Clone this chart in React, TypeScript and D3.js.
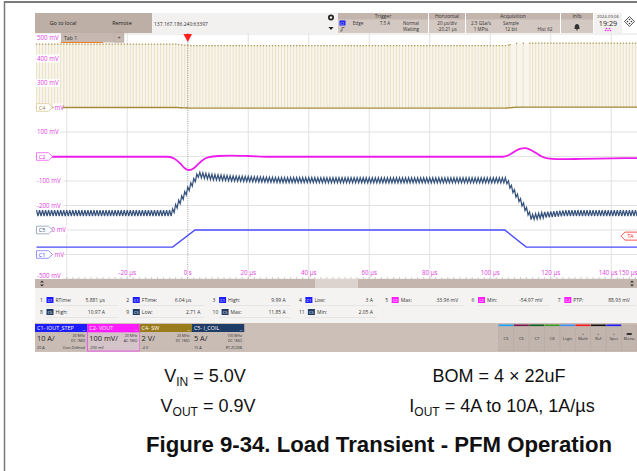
import React from "react";
import * as d3 from "d3";

const W = 637;
const H = 471;

// ---------- axes ----------
const timeDomainUs = [-50, 150];
const timeGridUs = [-40, -20, 0, 20, 40, 60, 80, 100, 120, 140];
const timeTickUs = [-20, 0, 20, 40, 60, 80, 100, 120, 140, 150];
const timeTickLabels = ["-20 µs", "0 s", "20 µs", "40 µs", "60 µs", "80 µs", "100 µs", "120 µs", "140 µs", "150 µs"];
const voltGridMv = [500, 400, 300, 200, 100, 0, -100, -200, -300, -400, -500];
// labels as visible on screen (partly hidden behind the channel tags)
const voltLabels = ["500 mV", "400 mV", "300 mV", "mV", "100 mV", "", "-100 mV", "-200 mV", "0 mV", "mV", "-500 mV"];

// ---------- C1 IOUT_STEP (A) ----------
const c1TimeUs = [-50, -5.0, 2.4, 104.8, 111.9, 150];
const c1Amps = [3, 3, 9.99, 9.99, 3, 3];

// ---------- C2 VOUT (mV, AC) ----------
const c2TimeUs = [-50, -6.5, -4.5, -2.5, -1, 0.5, 2, 3.5, 5, 7, 10, 14, 20, 27, 104, 106, 108, 110, 111.5, 113, 115, 117, 119, 122, 130, 140, 150];
const c2Mv = [-1, -1, -8, -28, -48, -55, -48, -30, -14, -3, 2, 3.5, 2, -1, -1, 5, 20, 32, 34, 29, 15, 0, -8, -11, -10, -8, -6];

// ---------- C5 I_COIL (A) : envelope ----------
const c5TimeUs = [-50, -5.3, 3.5, 8, 15, 30, 60, 105.3, 113.6, 118, 125, 150];
const c5CenterA = [3.45, 3.45, 11.3, 10.8, 10.5, 10.2, 10.15, 10.15, 2.6, 3.1, 3.45, 3.45];
const c5RippleA = [0.6, 0.6, 0.55, 0.55, 0.52, 0.52, 0.52, 0.52, 0.55, 0.6, 0.6, 0.6];
const c5PeriodUs = 1.0;

// ---------- C4 SW (V) ----------
const c4TimeUs = [-50, -4, 0.5, 105, 109, 150];
const c4HighV = [5.17, 5.17, 5.05, 5.05, 5.25, 5.25];
const c4LowV = [0, 0, -0.05, -0.05, 0.03, 0.03];
const c4PeriodUs = 1.0;
const c4SparseUs = [106.5, 114];
const c4SparsePeriodUs = 2.2;

// ---------- markers ----------
const markerNames = ["C4", "C2", "C5", "C1"];
const markerLevelMv = [200, 0, -300, -400];
const markerStroke = ["#d9cc9c", "#f060f0", "#8c9cb4", "#7a7aff"];
const markerText = ["#9a8030", "#e020e0", "#2c4a75", "#3030ff"];

// ---------- measurements ----------
const measNum = ["1", "2", "3", "4", "5", "6", "7", "8", "9", "10", "11"];
const measCh = ["C1", "C1", "C1", "C1", "C2", "C2", "C2", "C5", "C5", "C5", "C5"];
const measName = ["RTime:", "FTime:", "High:", "Low:", "Max:", "Min:", "PTP:", "High:", "Low:", "Max:", "Min:"];
const measValue = ["5.881 µs", "6.04 µs", "9.99 A", "3 A", "33.96 mV", "-54.97 mV", "88.93 mV", "10.97 A", "2.71 A", "11.85 A", "2.05 A"];
const measValueEnd = [67, 67, 75, 76, 75, 73, 74, 67, 76, 75, 76];

// ---------- channel badges ----------
const chName = ["C1- IOUT_STEP", "C2- VOUT", "C4- SW", "C5- I_COIL"];
const chScale = ["10 A/", "100 mV/", "2 V/", "5 A/"];
const chBw = ["20 MHz", "20 MHz", "20 MHz", "100 MHz"];
const chCoupling = ["DC 1MΩ", "AC 1MΩ", "DC 1MΩ", "DC 1MΩ"];
const chOffset = ["20 A", "-200 mV", "-4 V", "15 A"];
const chProbe = ["User-Defined", "", "", "RT-ZC20B"];
const chColor = ["#1c1cff", "#ff1cff", "#9a7c1c", "#1f3c66"];

const sideButtons = ["C3", "C6", "C7", "C8", "Logic", "Math", "Ref", "Spec", "Menu"];
const sideButtonColors = ["#1aa0ff", "#7a1450", "#0b5a20", "#3a9a1e", "#3f8fff", "#ff1a1a", "#111111", "#1a1aff", "none"];

const chColorMap: Record<string, string> = { C1: "#1c1cff", C2: "#ff1cff", C4: "#9a7c1c", C5: "#1f3c66" };

const UI = "'Open Sans', 'Noto Sans', sans-serif";
const CAP = "'Liberation Sans', Arial, sans-serif";

export default function App() {
  const x = d3.scaleLinear().domain(timeDomainUs).range([36.5, 641.5]);
  const yMv = d3.scaleLinear().domain([-500, 500]).range([279, 34]);
  const yC1 = (a: number) => yMv(-400 + a * 10);
  const yC2 = (mv: number) => yMv(mv);
  const yC4 = (v: number) => yMv(200 + v * 50);
  const yC5 = (a: number) => yMv(-300 + a * 20);

  const plotL = 35, plotR = 637, plotT = 33, plotB = 279;

  const c1Line = d3.line<number>().x((_, i) => x(c1TimeUs[i])).y((d) => yC1(d))(c1Amps) || "";
  const c2Line = d3.line<number>().x((_, i) => x(c2TimeUs[i])).y((d) => yC2(d)).curve(d3.curveMonotoneX)(c2Mv) || "";

  const c5Center = d3.scaleLinear().domain(c5TimeUs).range(c5CenterA);
  const c5Amp = d3.scaleLinear().domain(c5TimeUs).range(c5RippleA);
  const half = c5PeriodUs / 2;
  const nC5 = Math.floor((timeDomainUs[1] - timeDomainUs[0]) / half);
  const c5Pts = d3.range(nC5 + 1).map((k) => {
    const t = timeDomainUs[0] + k * half;
    return [t, c5Center(t) + (k % 2 === 0 ? 1 : -1) * c5Amp(t)] as [number, number];
  });
  const c5Line = d3.line<[number, number]>().x((d) => x(d[0])).y((d) => yC5(d[1]))(c5Pts) || "";

  const c4High = d3.scaleLinear().domain(c4TimeUs).range(c4HighV);
  const c4Low = d3.scaleLinear().domain(c4TimeUs).range(c4LowV);
  const pulses: number[] = [];
  for (let t = timeDomainUs[0]; t < c4SparseUs[0]; t += c4PeriodUs) pulses.push(t);
  for (let t = c4SparseUs[0]; t < c4SparseUs[1]; t += c4SparsePeriodUs) pulses.push(t);
  for (let t = c4SparseUs[1]; t <= timeDomainUs[1]; t += c4PeriodUs) pulses.push(t);
  const c4Tms = d3.range(timeDomainUs[0], timeDomainUs[1] + 0.5, 0.5);
  const c4Area = d3.area<number>().x((t) => x(t)).y0((t) => yC4(c4Low(t))).y1((t) => yC4(c4High(t)))(c4Tms) || "";
  const c4Base = d3.line<number>().x((t) => x(t)).y((t) => yC4(c4Low(t)))(c4Tms) || "";

  const minorTicks = d3.range(-50, 151, 2);

  return (
    <div style={{ position: "absolute", left: 0, top: 0, width: W, height: H }}>
      <svg width={W} height={H} viewBox={`0 0 ${W} ${H}`} style={{ display: "block", background: "#fff" }}>
        <defs>
          <clipPath id="plotClip">
            <rect x={plotL} y={plotT} width={plotR - plotL} height={plotB - plotT} />
          </clipPath>
        </defs>

        {/* outer figure border */}
        <line x1={4.5} y1={2} x2={W} y2={2} stroke="#7a7a7a" strokeWidth={2} />
        <line x1={4.5} y1={1} x2={4.5} y2={H} stroke="#7a7a7a" strokeWidth={1.5} />

        {/* ---------- top toolbar ---------- */}
        <rect x={35} y={13} width={117} height={20} fill="#bdaea6" />
        <text x={63} y={25} fontFamily={UI} fontSize={5.4} textAnchor="middle" fill="#222">Go to local</text>
        <text x={122} y={25} fontFamily={UI} fontSize={5.4} textAnchor="middle" fill="#222">Remote</text>
        <rect x={152} y={13} width={186} height={20} fill="#f3f1f0" />
        <text x={154} y={25.5} fontFamily={UI} fontSize={5} fill="#333">137.167.186.240:63397</text>
        <circle cx={331} cy={17.5} r={3} fill="#222" />
        <circle cx={331} cy={17.5} r={1.2} fill="#f3f1f0" />
        <path d="M328.5,27 L333.5,27 L331,30 Z" fill="#222" />
        {/* trigger panel */}
        <rect x={338} y={13} width={90} height={20} fill="#d3c8c2" />
        <rect x={338} y={13} width={90} height={6.5} fill="#c3b5ae" />
        <text x={383} y={18} fontFamily={UI} fontSize={5} textAnchor="middle" fill="#333">Trigger</text>
        <rect x={339.5} y={20.5} width={6} height={5} fill="#1c1cff" />
        <text x={342.5} y={24.5} fontFamily={UI} fontSize={3.6} textAnchor="middle" fill="#fff">C1</text>
        <text x={358} y={25} fontFamily={UI} fontSize={4.6} textAnchor="middle" fill="#333">Edge</text>
        <text x={385} y={25} fontFamily={UI} fontSize={4.6} textAnchor="middle" fill="#333">7.5 A</text>
        <text x={411} y={25} fontFamily={UI} fontSize={4.6} textAnchor="middle" fill="#333">Normal</text>
        <path d="M340,31 L342,31 L342,27.5 L344.5,27.5" fill="none" stroke="#333" strokeWidth={0.6} />
        <text x={411} y={31} fontFamily={UI} fontSize={4.6} textAnchor="middle" fill="#333">Waiting</text>
        {/* horizontal panel */}
        <rect x={429} y={13} width={36} height={20} fill="#d3c8c2" />
        <rect x={429} y={13} width={36} height={6.5} fill="#c3b5ae" />
        <text x={447} y={18} fontFamily={UI} fontSize={5} textAnchor="middle" fill="#333">Horizontal</text>
        <text x={447} y={25} fontFamily={UI} fontSize={4.6} textAnchor="middle" fill="#333">20 µs/div</text>
        <text x={447} y={31} fontFamily={UI} fontSize={4.6} textAnchor="middle" fill="#333">-20.21 µs</text>
        {/* acquisition panel */}
        <rect x={466} y={13} width={94} height={20} fill="#d3c8c2" />
        <rect x={466} y={13} width={94} height={6.5} fill="#c3b5ae" />
        <text x={513} y={18} fontFamily={UI} fontSize={5} textAnchor="middle" fill="#333">Acquisition</text>
        <text x={481} y={25} fontFamily={UI} fontSize={4.6} textAnchor="middle" fill="#333">2.5 GSa/s</text>
        <text x={511} y={25} fontFamily={UI} fontSize={4.6} textAnchor="middle" fill="#333">Sample</text>
        <text x={481} y={31} fontFamily={UI} fontSize={4.6} textAnchor="middle" fill="#333">1 MPts</text>
        <text x={511} y={31} fontFamily={UI} fontSize={4.6} textAnchor="middle" fill="#333">12 bit</text>
        <text x={545} y={31} fontFamily={UI} fontSize={4.6} textAnchor="middle" fill="#333">Hist 62</text>
        {/* info panel */}
        <rect x={561} y={13} width={32} height={20} fill="#d3c8c2" />
        <rect x={561} y={13} width={32} height={6.5} fill="#c3b5ae" />
        <text x={577} y={18} fontFamily={UI} fontSize={5} textAnchor="middle" fill="#333">Info</text>
        <path d="M574.5,29 Q574.5,24 577,24 Q579.5,24 579.5,29 Z" fill="#333" />
        <circle cx={577} cy={29.8} r={0.8} fill="#333" />
        {/* date panel */}
        <rect x={594} y={13} width={28} height={20} fill="#f3f1f0" />
        <text x={608} y={17.5} fontFamily={UI} fontSize={4.2} textAnchor="middle" fill="#333">2024-09-06</text>
        <text x={608} y={25.5} fontFamily={UI} fontSize={7.2} textAnchor="middle" fill="#222">19:29</text>
        <circle cx={606.5} cy={28.5} r={0.8} fill="#ff1cff" />
        <circle cx={609.5} cy={28.5} r={0.8} fill="#ff1cff" />
        <circle cx={605.5} cy={30.5} r={0.8} fill="#ff1cff" />
        <circle cx={608} cy={30.5} r={0.8} fill="#ff1cff" />
        <circle cx={610.5} cy={30.5} r={0.8} fill="#ff1cff" />
        <rect x={626} y={18} width={7} height={7} fill="none" stroke="#333" strokeWidth={0.8} transform="rotate(45 629.5 21.5)" />
        <circle cx={629.5} cy={19.5} r={0.8} fill="#333" />
        <circle cx={629.5} cy={23.5} r={0.8} fill="#333" />
        <circle cx={627.5} cy={21.5} r={0.8} fill="#333" />
        <circle cx={631.5} cy={21.5} r={0.8} fill="#333" />

        {/* ---------- plot area ---------- */}
        <rect x={plotL} y={plotT} width={plotR - plotL} height={plotB - plotT} fill="#ffffff" />
        <g clipPath="url(#plotClip)">
          {voltGridMv.map((v) => (
            <line key={"h" + v} x1={plotL} x2={plotR} y1={yMv(v)} y2={yMv(v)} stroke="#e2e2e2" strokeWidth={1} />
          ))}
          {timeGridUs.filter((t) => t !== 0).map((t) => (
            <line key={"v" + t} x1={x(t)} x2={x(t)} y1={plotT} y2={plotB} stroke="#e2e2e2" strokeWidth={1} />
          ))}
          {minorTicks.map((t) => (
            <line key={"m" + t} x1={x(t)} x2={x(t)} y1={plotB - 2} y2={plotB} stroke="#b0b0b0" strokeWidth={0.6} />
          ))}

          {/* C4 switching node */}
          <path d={c4Area} fill="#f8f5ec" />
          {pulses.map((t, i) => (
            <line key={"p" + i} x1={x(t)} x2={x(t)} y1={yC4(c4Low(t))} y2={yC4(c4High(t))} stroke="#e6dcbe" strokeWidth={0.8} />
          ))}
          {pulses.map((t, i) => (
            <line key={"pt" + i} x1={x(t) - 0.6} x2={x(t) + 0.8} y1={yC4(c4High(t))} y2={yC4(c4High(t))} stroke="#ad9650" strokeWidth={1.2} />
          ))}
          <path d={c4Base} fill="none" stroke="#a68c3a" strokeWidth={1.4} />

          <line x1={x(0)} x2={x(0)} y1={plotT} y2={plotB} stroke="#8a8a8a" strokeWidth={0.8} strokeDasharray="1,1.2" />

          <path d={c2Line} fill="none" stroke="#ec1cec" strokeWidth={1.8} />
          <path d={c5Line} fill="none" stroke="#35527c" strokeWidth={1.25} />
          <path d={c1Line} fill="none" stroke="#4a4aff" strokeWidth={1.4} />
        </g>

        {/* y labels */}
        {voltGridMv.map((v, i) => {
          const lbl = voltLabels[i];
          if (!lbl) return null;
          const yy = Math.min(Math.max(yMv(v), 38), 275.5);
          const mi = markerLevelMv.indexOf(v);
          const lx = mi >= 0 ? (lbl === "mV" ? 54.5 : 51.5) : 37;
          return (
            <g key={"yl" + v}>
              <rect x={lx - 1} y={yy - 4} width={lbl.length * 3.6 + 2} height={8} fill="#fff" />
              <text x={lx} y={yy + 2.2} fontFamily={UI} fontSize={6.2} fill="#e040e0">{lbl}</text>
            </g>
          );
        })}
        {/* channel tags */}
        {markerNames.map((n, i) => {
          const yy = yMv(markerLevelMv[i]);
          return (
            <g key={"tag" + n}>
              <path d={`M36.5,${yy - 3.8} L48.5,${yy - 3.8} L52.5,${yy} L48.5,${yy + 3.8} L36.5,${yy + 3.8} Z`} fill="#fff" stroke={markerStroke[i]} strokeWidth={0.8} />
              <text x={42} y={yy + 2} fontFamily={UI} fontSize={5.4} textAnchor="middle" fill={markerText[i]}>{n}</text>
            </g>
          );
        })}
        {/* x labels */}
        {timeTickUs.map((t, i) => {
          let xx = x(t);
          if (t === 140) xx -= 3;
          if (t === 150) xx = 628;
          return (
            <text key={"xl" + t} x={xx} y={275} fontFamily={UI} fontSize={6.2} textAnchor="middle" fill="#e040e0">{timeTickLabels[i]}</text>
          );
        })}

        {/* tab bar over plot */}
        <rect x={61} y={33} width={53} height={9.5} fill="#c6b8b1" />
        <text x={64} y={40} fontFamily={UI} fontSize={5.2} fill="#333">Tab 1</text>
        <line x1={61} x2={103} y1={42.5} y2={42.5} stroke="#f08020" strokeWidth={1} />
        <rect x={114} y={33} width={10} height={9.5} fill="#c6b8b1" stroke="#b0a29b" strokeWidth={0.4} />
        <text x={119} y={40} fontFamily={UI} fontSize={5.5} textAnchor="middle" fill="#333">+</text>

        {/* trigger marker */}
        <path d={`M${x(0) - 4.3},34 L${x(0) + 4.3},34 L${x(0)},42 Z`} fill="#ff2020" />
        {/* TA marker */}
        <path d={`M625,${yC1(7.5) - 4} L640,${yC1(7.5) - 4} L640,${yC1(7.5) + 4} L625,${yC1(7.5) + 4} L621,${yC1(7.5)} Z`} fill="#fff" stroke="#ff2a2a" strokeWidth={0.8} />
        <text x={630.5} y={yC1(7.5) + 2} fontFamily={UI} fontSize={5.2} textAnchor="middle" fill="#ff2a2a">TA</text>

        {/* scrollbar */}
        <rect x={35} y={279} width={280} height={9} fill="#c4b6ae" />
        <rect x={315} y={279} width={43} height={9} fill="#dcd3cf" />
        <rect x={358} y={279} width={279} height={9} fill="#c4b6ae" />
        <path d="M40,282.6 L42,280.6 L44,282.6 Z M40,284.4 L42,286.4 L44,284.4 Z" fill="#333" />
        <path d="M630,282.6 L632,280.6 L634,282.6 Z M630,284.4 L632,286.4 L634,284.4 Z" fill="#333" />

        {/* measurements */}
        <rect x={35} y={288} width={602} height={35} fill="#f5f3f2" />
        {measNum.map((num, i) => {
          const row = i < 7 ? 0 : 1;
          const col = i < 7 ? i : i - 7;
          const x0 = 38 + col * 86.3;
          const yy = row === 0 ? 300 : 312;
          const off = num.length > 1 ? 2.5 : 0;
          return (
            <g key={"meas" + i}>
              <text x={x0 + 2} y={yy + 2} fontFamily={UI} fontSize={5} fill="#333">{num}</text>
              <rect x={x0 + 8.5 + off} y={yy - 3} width={7} height={6} fill={chColorMap[measCh[i]]} />
              <text x={x0 + 12 + off} y={yy + 1.6} fontFamily={UI} fontSize={3.8} textAnchor="middle" fill="#fff">{measCh[i]}</text>
              <text x={x0 + 17.5 + off} y={yy + 2} fontFamily={UI} fontSize={5} fill="#333">{measName[i]}</text>
              <text x={x0 + measValueEnd[i]} y={yy + 2} fontFamily={UI} fontSize={5} textAnchor="end" fill="#333">{measValue[i]}</text>
              <line x1={x0 + 8} x2={x0 + 80} y1={yy + 5.5} y2={yy + 5.5} stroke="#dcdcdc" strokeWidth={0.6} />
            </g>
          );
        })}

        {/* bottom strip */}
        <rect x={35} y={323} width={602} height={29} fill="#cbbfb8" />
        {chName.map((n, i) => {
          const bx = 35 + i * 52.3;
          return (
            <g key={"ch" + i}>
              <rect x={bx} y={324} width={52.3} height={8} fill={chColor[i]} />
              <text x={bx + 2} y={330.3} fontFamily={UI} fontSize={5.4} fill="#fff">{n}</text>
              <text x={bx + 48} y={330} fontFamily={UI} fontSize={5} fill="#fff">_</text>
              <rect x={bx} y={332} width={52.3} height={19} fill={i === 1 ? "#d4c3c8" : "#c9bcb5"} stroke={i === 1 ? "#ff1cff" : "none"} strokeWidth={0.6} />
              <text x={bx + 2} y={340.5} fontFamily={UI} fontSize={7.4} fill="#222">{chScale[i]}</text>
              <text x={bx + 50} y={337} fontFamily={UI} fontSize={3.6} textAnchor="end" fill="#333">{chBw[i]}</text>
              <text x={bx + 50} y={342} fontFamily={UI} fontSize={3.6} textAnchor="end" fill="#333">{chCoupling[i]}</text>
              <text x={bx + 2} y={348.5} fontFamily={UI} fontSize={3.8} fill="#333">{chOffset[i]}</text>
              {chProbe[i] && <text x={bx + 50} y={348.5} fontFamily={UI} fontSize={3.6} textAnchor="end" fill="#333">{chProbe[i]}</text>}
            </g>
          );
        })}
        {sideButtons.map((b, i) => {
          const bx = 498.5 + i * 15.4;
          return (
            <g key={"sb" + b}>
              <rect x={bx} y={325} width={15} height={26} fill="#c2b5ae" stroke="#b4a69f" strokeWidth={0.4} />
              {sideButtonColors[i] !== "none" && <rect x={bx} y={324.5} width={15} height={1.6} fill={sideButtonColors[i]} />}
              {(b === "Math" || b === "Ref" || b === "Spec") && (
                <text x={bx + 7.5} y={335} fontFamily={UI} fontSize={3.8} textAnchor="middle" fill="#333">+</text>
              )}
              {b === "Menu" && <rect x={bx + 5} y={333} width={5} height={2} fill="#333" />}
              <text x={bx + 7.5} y={339.5} fontFamily={UI} fontSize={4} textAnchor="middle" fill="#333">{b}</text>
            </g>
          );
        })}

        {/* ---------- caption ---------- */}
        <text x={205} y={382} fontFamily={CAP} fontSize={18} textAnchor="middle" fill="#111">
          V<tspan fontSize={12} dy={4}>IN</tspan><tspan dy={-4}> = 5.0V</tspan>
        </text>
        <text x={499} y={382} fontFamily={CAP} fontSize={18} textAnchor="middle" fill="#111">BOM = 4 × 22uF</text>
        <text x={208} y={412} fontFamily={CAP} fontSize={18} textAnchor="middle" fill="#111">
          V<tspan fontSize={12} dy={4}>OUT</tspan><tspan dy={-4}> = 0.9V</tspan>
        </text>
        <text x={502} y={412} fontFamily={CAP} fontSize={18} textAnchor="middle" fill="#111">
          I<tspan fontSize={12} dy={4}>OUT</tspan><tspan dy={-4}> = 4A to 10A, 1A/µs</tspan>
        </text>
        <text x={379} y={452} fontFamily={CAP} fontSize={22.2} fontWeight="bold" textAnchor="middle" fill="#111">
          Figure 9-34. Load Transient - PFM Operation
        </text>
      </svg>
    </div>
  );
}
